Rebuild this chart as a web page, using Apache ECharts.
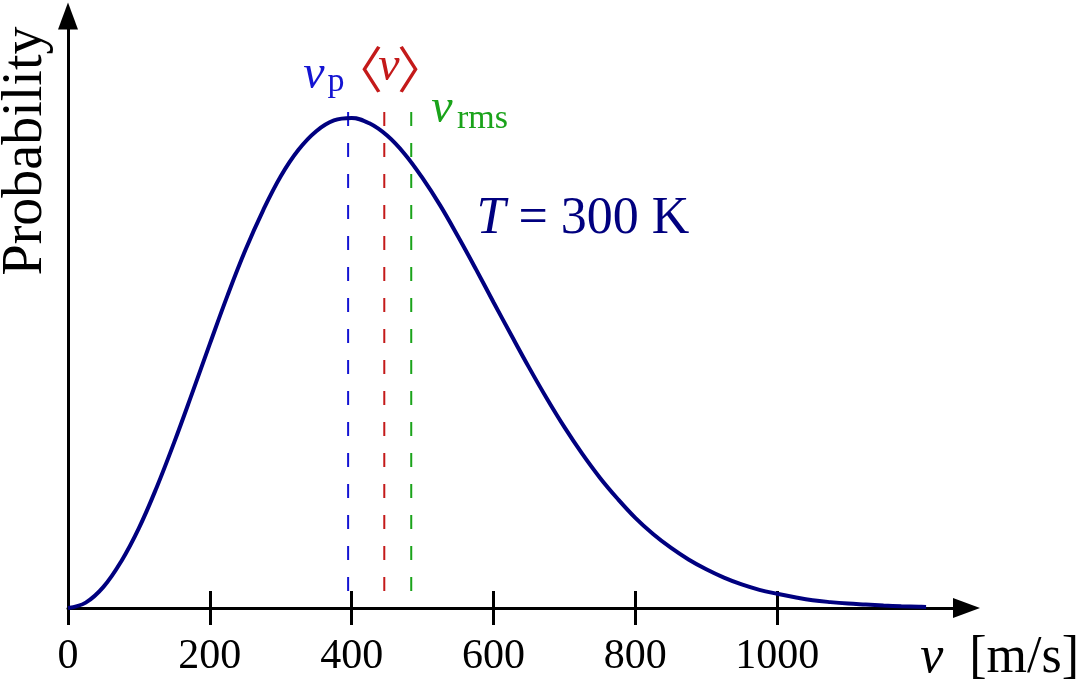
<!DOCTYPE html>
<html>
<head>
<meta charset="utf-8">
<script src="https://cdn.jsdelivr.net/npm/echarts@6/dist/echarts.min.js"></script>
<style>
html,body{margin:0;padding:0;background:#fff;}
#chart{width:1080px;height:682px;}
</style>
</head>
<body>
<div id="chart"></div>
<script>
// Speed v [m/s]
const speeds = [0,25,50,75,100,125,150,175,200,225,250,275,300,325,350,375,400,425,450,475,500,525,550,575,600,625,650,675,700,725,750,775,800,825,850,875,900,925,950,975,1000,1025,1050,1075,1100,1125,1150,1175,1200,1210];
// Relative probability (peak ~ 100)
const probs = [0,1.1,4.3,9.5,16.3,24.6,33.9,43.8,53.9,63.8,73.0,81.1,88.1,93.5,97.3,99.5,100.0,98.9,96.4,92.6,87.7,82.1,75.8,69.2,62.4,55.7,49.1,42.8,36.9,31.5,26.6,22.3,18.4,15.1,12.3,9.9,7.9,6.2,4.8,3.7,2.9,2.2,1.6,1.2,0.9,0.7,0.5,0.35,0.25,0.21];
// Characteristic speeds: most probable, mean, rms
const markerSpeeds = [395, 446, 484];
const markerColors = ['#1414d2', '#c41a1a', '#1aa31a'];
const markerTop = 101.2;
const tickValues = [0, 200, 400, 600, 800, 1000];

const FONT = '"Liberation Serif", "Times New Roman", serif';
const BRACKET_FONT = '"Noto Sans CJK SC", "DejaVu Sans", sans-serif';
const chart = echarts.init(document.getElementById('chart'));

const curve = speeds.map((v, i) => [v, probs[i]]);
const markerSeries = markerSpeeds.map((v, i) => ({
  type: 'line',
  data: [[v, markerTop], [v, 0]],
  showSymbol: false,
  silent: true,
  z: 2,
  lineStyle: { color: markerColors[i], width: 2, type: [14, 17] }
}));

const option = {
  animation: false,
  backgroundColor: '#fff',
  grid: { left: 68, right: 113.5, top: 16, bottom: 74 },
  xAxis: [{
    type: 'value', min: 0, max: 1267,
    splitLine: { show: false },
    axisLine: { show: true, onZero: false, symbol: ['none', 'triangle'], symbolSize: [20, 27],
      lineStyle: { color: '#000', width: 3 } },
    axisTick: { show: true, inside: false, length: 17, customValues: tickValues,
      lineStyle: { color: '#000', width: 3 } },
    axisLabel: { show: true, customValues: tickValues, margin: 28,
      formatter: (v) => String(v),
      fontFamily: FONT, fontSize: 42, color: '#000' }
  }, {
    type: 'value', min: 0, max: 1267, position: 'bottom',
    splitLine: { show: false },
    axisLine: { show: false },
    axisTick: { show: true, inside: true, length: 17, customValues: tickValues,
      lineStyle: { color: '#000', width: 3 } },
    axisLabel: { show: false }
  }],
  yAxis: {
    type: 'value', min: 0, max: 120.8,
    splitLine: { show: false },
    axisLine: { show: true, symbol: ['none', 'triangle'], symbolSize: [20, 27],
      lineStyle: { color: '#000', width: 3 } },
    axisTick: { show: false },
    axisLabel: { show: false }
  },
  series: [
    ...markerSeries,
    {
      type: 'line',
      data: curve,
      smooth: 0.4,
      showSymbol: false,
      z: 3,
      lineStyle: { color: '#00007f', width: 4 }
    }
  ],
  graphic: [
    { type: 'text', x: 26, y: 151, rotation: Math.PI / 2,
      style: { text: 'Probability', font: '56px ' + FONT, fill: '#000', textAlign: 'center', textVerticalAlign: 'middle' } },
    // v_p
    { type: 'text', x: 314, y: 75, style: { text: 'v', font: 'italic 48px ' + FONT, fill: markerColors[0], textAlign: 'center', textVerticalAlign: 'middle' } },
    { type: 'text', x: 336, y: 82, style: { text: 'p', font: '34px ' + FONT, fill: markerColors[0], textAlign: 'center', textVerticalAlign: 'middle' } },
    // <v>
    { type: 'text', x: 358, y: 69, style: { text: '\u3008', font: '50px ' + BRACKET_FONT, fill: markerColors[1], textAlign: 'center', textVerticalAlign: 'middle' } },
    { type: 'text', x: 389, y: 67, style: { text: 'v', font: 'italic 48px ' + FONT, fill: markerColors[1], textAlign: 'center', textVerticalAlign: 'middle' } },
    { type: 'text', x: 422, y: 69, style: { text: '\u3009', font: '50px ' + BRACKET_FONT, fill: markerColors[1], textAlign: 'center', textVerticalAlign: 'middle' } },
    // v_rms
    { type: 'text', x: 442, y: 109, style: { text: 'v', font: 'italic 48px ' + FONT, fill: markerColors[2], textAlign: 'center', textVerticalAlign: 'middle' } },
    { type: 'text', x: 457, y: 119, style: { text: 'rms', font: '34px ' + FONT, fill: markerColors[2], textAlign: 'left', textVerticalAlign: 'middle' } },
    // T = 300 K
    { type: 'text', x: 583, y: 219, style: {
      text: '{i|T} = 300 K', font: '52px ' + FONT, fill: '#00007f', textAlign: 'center', textVerticalAlign: 'middle',
      rich: { i: { fontStyle: 'italic', fontFamily: FONT, fontSize: 52, color: '#00007f' } } } },
    // v [m/s]
    { type: 'text', x: 1079, y: 658, style: {
      text: '{i|v}  [m/s]', font: '52px ' + FONT, fill: '#000', textAlign: 'right', textVerticalAlign: 'middle',
      rich: { i: { fontStyle: 'italic', fontFamily: FONT, fontSize: 52, color: '#000' } } } }
  ]
};
chart.setOption(option);
</script>
</body>
</html>
